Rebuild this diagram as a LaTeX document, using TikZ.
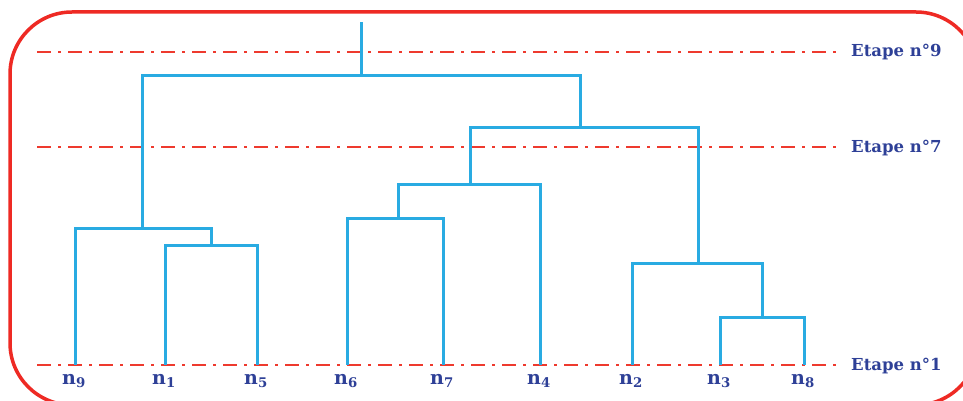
\documentclass[tikz,border=0pt]{standalone}
\usepackage{fontspec}
\setmainfont{DejaVu Serif}
\begin{document}
\begin{tikzpicture}[x=1pt,y=-1pt,
  tree/.style={draw=treeblue,line width=3pt},
  level/.style={draw=lvlred,line width=2.2pt,dash pattern=on 14pt off 7pt on 3pt off 7pt},
  etape/.style={text=lblblue,font=\bfseries\fontsize{16.5}{18}\selectfont,anchor=base west,inner sep=0pt},
  leaf/.style={text=lblblue,font=\bfseries\fontsize{19}{21}\selectfont,anchor=base west,inner sep=0pt}]
\definecolor{treeblue}{HTML}{29ABE2}
\definecolor{lvlred}{HTML}{EE3A2E}
\definecolor{lblblue}{HTML}{2E4097}
\definecolor{frame}{HTML}{EE2A24}
\useasboundingbox (0,0) rectangle (963,401);
\draw[frame,line width=3.5pt,rounded corners=62pt] (10,12) rectangle (978,405);
% level lines
\coordinate (l9a) at (37,52); \coordinate (l9b) at (838,52);
\coordinate (l7a) at (37,147); \coordinate (l7b) at (838,147);
\coordinate (l1a) at (37,365); \coordinate (l1b) at (838,365);
\draw[level] (l9a) -- (l9b);
\draw[level] (l7a) -- (l7b);
\draw[level] (l1a) -- (l1b);
\node[etape] (e9) at (851,57) {Etape n°9};
\node[etape] (e7) at (851,152) {Etape n°7};
\node[etape] (e1) at (851,370) {Etape n°1};
% leaves
\foreach \n/\x/\i in {n9/75/9,n1/165/1,n5/257/5,n6/347/6,n7/443/7,n4/540/4,n2/632/2,n3/720/3,n8/804/8}{
  \coordinate (\n) at (\x,365);
  \node[leaf] (lab\n) at (\x-13,384) {n\textsubscript{\i}};
}
% merge points
\coordinate (m15) at (211,245);
\coordinate (m915) at (142,228);
\coordinate (m67) at (398,218);
\coordinate (m674) at (470,184);
\coordinate (m38) at (762,317);
\coordinate (m238) at (698,263);
\coordinate (mR) at (580,128);
\coordinate (mT) at (361,76);
\coordinate (top) at (361,22);
\draw[tree] (n1) |- (m15) -| (n5);
\draw[tree] (n9) |- (m915) -| (m15);
\draw[tree] (n6) |- (m67) -| (n7);
\draw[tree] (m67) |- (m674) -| (n4);
\draw[tree] (n3) |- (m38) -| (n8);
\draw[tree] (n2) |- (m238) -| (m38);
\draw[tree] (m674) |- (mR) -| (m238);
\draw[tree] (m915) |- (mT) -| (mR);
\draw[tree] (mT) -- (top);
\end{tikzpicture}
\end{document}
